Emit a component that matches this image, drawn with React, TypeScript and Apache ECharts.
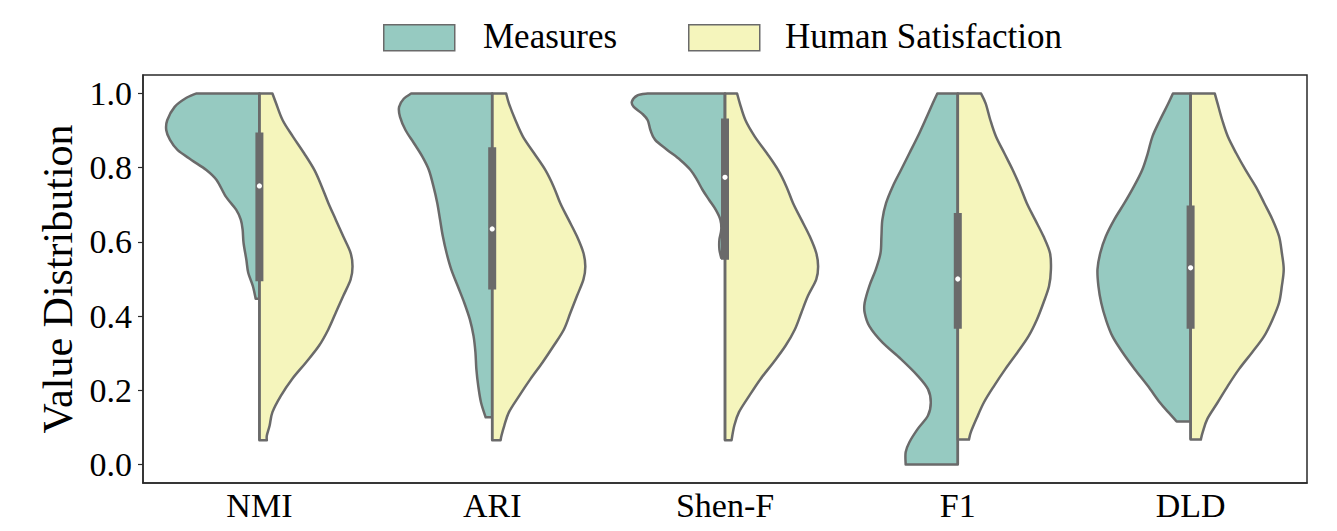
import React, { useEffect, useRef } from "react";
import * as echarts from "echarts";

const categories = ["NMI", "ARI", "Shen-F", "F1", "DLD"];
const seriesNames = ["Measures", "Human Satisfaction"];
const yTicks = [0, 0.2, 0.4, 0.6, 0.8, 1.0];

// Kernel density profiles: [value, relative density]
const nmiMeasures = [[1.0, 0.68], [0.986, 0.8], [0.964, 0.91], [0.928, 0.99], [0.901, 1.0], [0.875, 0.96], [0.848, 0.88], [0.821, 0.73], [0.794, 0.57], [0.767, 0.46], [0.722, 0.36], [0.687, 0.25], [0.66, 0.2], [0.633, 0.18], [0.597, 0.17], [0.552, 0.14], [0.517, 0.12], [0.481, 0.07], [0.447, 0.04]];
const ariMeasures = [[1.0, 0.87], [0.986, 0.95], [0.964, 1.0], [0.937, 0.99], [0.901, 0.93], [0.866, 0.84], [0.83, 0.75], [0.794, 0.68], [0.749, 0.63], [0.705, 0.59], [0.66, 0.56], [0.615, 0.53], [0.57, 0.49], [0.526, 0.44], [0.481, 0.37], [0.436, 0.3], [0.391, 0.24], [0.346, 0.2], [0.302, 0.18], [0.257, 0.17], [0.212, 0.15], [0.167, 0.12], [0.127, 0.07]];
const shenMeasures = [[1.0, 0.83], [0.995, 0.94], [0.978, 1.0], [0.964, 0.98], [0.946, 0.89], [0.928, 0.83], [0.901, 0.8], [0.875, 0.75], [0.848, 0.62], [0.821, 0.48], [0.794, 0.37], [0.767, 0.3], [0.74, 0.24], [0.713, 0.17], [0.687, 0.1], [0.66, 0.05], [0.633, 0.04], [0.606, 0.06], [0.579, 0.06], [0.557, 0.04]];
const f1Measures = [[1.0, 0.22], [0.973, 0.27], [0.928, 0.35], [0.884, 0.43], [0.839, 0.52], [0.794, 0.61], [0.749, 0.7], [0.705, 0.77], [0.66, 0.81], [0.615, 0.82], [0.57, 0.83], [0.526, 0.88], [0.481, 0.95], [0.436, 1.0], [0.409, 1.0], [0.373, 0.95], [0.329, 0.81], [0.284, 0.61], [0.239, 0.43], [0.203, 0.32], [0.167, 0.29], [0.132, 0.32], [0.096, 0.43], [0.06, 0.52], [0.033, 0.56], [0.0, 0.56]];
const dldMeasures = [[1.0, 0.19], [0.973, 0.24], [0.928, 0.33], [0.884, 0.41], [0.839, 0.46], [0.794, 0.52], [0.749, 0.61], [0.705, 0.71], [0.66, 0.82], [0.615, 0.91], [0.57, 0.97], [0.526, 1.0], [0.481, 0.99], [0.436, 0.96], [0.391, 0.91], [0.346, 0.84], [0.302, 0.73], [0.257, 0.6], [0.212, 0.46], [0.167, 0.33], [0.141, 0.24], [0.116, 0.15]];

const nmiHuman = [[1.0, 0.14], [0.973, 0.18], [0.928, 0.25], [0.884, 0.36], [0.839, 0.48], [0.794, 0.59], [0.749, 0.67], [0.705, 0.74], [0.66, 0.82], [0.615, 0.9], [0.57, 0.98], [0.534, 1.0], [0.499, 0.98], [0.454, 0.9], [0.409, 0.82], [0.364, 0.74], [0.32, 0.64], [0.275, 0.5], [0.23, 0.35], [0.185, 0.23], [0.141, 0.14], [0.105, 0.11], [0.078, 0.08], [0.065, 0.08]];
const ariHuman = [[1.0, 0.15], [0.973, 0.18], [0.928, 0.25], [0.884, 0.33], [0.839, 0.45], [0.794, 0.57], [0.749, 0.66], [0.705, 0.73], [0.66, 0.82], [0.615, 0.91], [0.57, 0.98], [0.534, 1.0], [0.499, 0.98], [0.454, 0.91], [0.409, 0.84], [0.364, 0.77], [0.32, 0.66], [0.275, 0.54], [0.23, 0.41], [0.185, 0.29], [0.141, 0.18], [0.105, 0.13], [0.078, 0.1], [0.065, 0.09]];
const shenHuman = [[1.0, 0.13], [0.973, 0.16], [0.928, 0.22], [0.884, 0.32], [0.839, 0.45], [0.794, 0.57], [0.749, 0.66], [0.705, 0.73], [0.66, 0.82], [0.615, 0.91], [0.57, 0.98], [0.534, 1.0], [0.499, 0.98], [0.454, 0.89], [0.409, 0.82], [0.364, 0.75], [0.32, 0.65], [0.275, 0.52], [0.23, 0.38], [0.185, 0.26], [0.141, 0.15], [0.105, 0.1], [0.065, 0.07]];
const f1Human = [[1.0, 0.25], [0.973, 0.3], [0.928, 0.35], [0.884, 0.41], [0.839, 0.5], [0.794, 0.59], [0.749, 0.67], [0.705, 0.74], [0.66, 0.83], [0.615, 0.92], [0.57, 0.99], [0.526, 1.0], [0.481, 0.98], [0.436, 0.92], [0.391, 0.85], [0.346, 0.76], [0.302, 0.64], [0.257, 0.51], [0.212, 0.39], [0.167, 0.28], [0.123, 0.2], [0.087, 0.14], [0.067, 0.12]];
const dldHuman = [[1.0, 0.26], [0.973, 0.29], [0.928, 0.34], [0.884, 0.4], [0.839, 0.49], [0.794, 0.59], [0.749, 0.7], [0.705, 0.79], [0.66, 0.88], [0.615, 0.95], [0.57, 0.98], [0.526, 1.0], [0.481, 0.98], [0.436, 0.95], [0.391, 0.88], [0.346, 0.79], [0.302, 0.66], [0.257, 0.52], [0.212, 0.4], [0.167, 0.29], [0.123, 0.18], [0.087, 0.13], [0.067, 0.11]];

const measuresProfiles = [nmiMeasures, ariMeasures, shenMeasures, f1Measures, dldMeasures];
const humanProfiles = [nmiHuman, ariHuman, shenHuman, f1Human, dldHuman];

// inner box statistics
const boxQ1 = [0.494, 0.472, 0.552, 0.366, 0.366];
const boxQ3 = [0.895, 0.855, 0.933, 0.678, 0.698];
const medians = [0.751, 0.635, 0.774, 0.5, 0.53];
const whiskerLow = [0.065, 0.065, 0.065, 0.0, 0.067];
const whiskerHigh = [1.0, 1.0, 1.0, 1.0, 1.0];

const TEAL = "#96cac1";
const YELLOW = "#f5f5bc";
const GREY = "#6a6a6a";
const FONT = "'Liberation Serif', 'Times New Roman', serif";

function smoothPath(pts: number[][]) {
  let d = "";
  for (let i = 0; i < pts.length - 1; i++) {
    const p0 = pts[i - 1] || pts[i];
    const p1 = pts[i];
    const p2 = pts[i + 1];
    const p3 = pts[i + 2] || pts[i + 1];
    const c1x = p1[0] + (p2[0] - p0[0]) / 6;
    const c1y = p1[1] + (p2[1] - p0[1]) / 6;
    const c2x = p2[0] - (p3[0] - p1[0]) / 6;
    const c2y = p2[1] - (p3[1] - p1[1]) / 6;
    d += ` C${c1x},${c1y} ${c2x},${c2y} ${p2[0]},${p2[1]}`;
  }
  return d;
}

function violinRenderer(profiles: number[][][], side: number, fill: string) {
  return (params: any, api: any) => {
    const i = params.dataIndex;
    const prof = profiles[i];
    const cx = api.coord([i, 0])[0];
    const band = api.size([1, 0])[0];
    const half = band * 0.4;
    const maxD = Math.max(...prof.map((p) => p[1]));
    const pts = prof.map(([v, dd]) => [cx + (side * dd * half) / maxD, api.coord([i, v])[1]]);
    const yTop = pts[0][1];
    const yBot = pts[pts.length - 1][1];
    let d = `M${cx},${yTop} L${pts[0][0]},${pts[0][1]}`;
    d += smoothPath(pts);
    d += ` L${cx},${yBot} Z`;
    return {
      type: "path",
      shape: { pathData: d },
      style: { fill, stroke: GREY, lineWidth: 2.5, lineJoin: "round" },
    };
  };
}

function boxRenderer(params: any, api: any) {
  const i = params.dataIndex;
  const cx = api.coord([i, 0])[0];
  const yq1 = api.coord([i, boxQ1[i]])[1];
  const yq3 = api.coord([i, boxQ3[i]])[1];
  const ym = api.coord([i, medians[i]])[1];
  const ylo = api.coord([i, whiskerLow[i]])[1];
  const yhi = api.coord([i, whiskerHigh[i]])[1];
  const bw = 8;
  return {
    type: "group",
    children: [
      { type: "line", shape: { x1: cx, y1: yhi, x2: cx, y2: ylo }, style: { stroke: GREY, lineWidth: 2.5 } },
      { type: "rect", shape: { x: cx - bw / 2, y: yq3, width: bw, height: yq1 - yq3 }, style: { fill: GREY } },
      { type: "circle", shape: { cx, cy: ym, r: 2.6 }, style: { fill: "#ffffff" } },
    ],
  };
}

export default function App() {
  const ref = useRef<HTMLDivElement>(null);
  useEffect(() => {
    if (!ref.current) return;
    const chart = echarts.init(ref.current, null, { renderer: "svg" });
    const catData = categories.map((_, i) => [i, 0.5]);
    chart.setOption({
      animation: false,
      backgroundColor: "#ffffff",
      grid: { left: 143, right: 30, top: 75, bottom: 48, show: true, borderColor: "#2a2a2a", borderWidth: 1.5, backgroundColor: "transparent" },
      xAxis: {
        type: "category",
        data: categories,
        boundaryGap: true,
        axisLine: { onZero: false, lineStyle: { color: "#2a2a2a", width: 1.5 } },
        axisTick: { alignWithLabel: true, length: 5, lineStyle: { color: "#2a2a2a", width: 1.2 } },
        axisLabel: { fontFamily: FONT, fontSize: 34, color: "#000", margin: 5 },
        splitLine: { show: false },
      },
      yAxis: {
        type: "value",
        min: -0.05,
        max: 1.05,
        name: "Value Distribution",
        nameLocation: "middle",
        nameGap: 62,
        nameTextStyle: { fontFamily: FONT, fontSize: 42, color: "#000" },
        axisLine: { show: true, lineStyle: { color: "#2a2a2a", width: 1.5 } },
        axisTick: { show: true, length: 5, customValues: yTicks, lineStyle: { color: "#2a2a2a", width: 1.2 } },
        axisLabel: {
          fontFamily: FONT,
          fontSize: 34,
          color: "#000",
          margin: 11,
          customValues: yTicks,
          formatter: (v: number) => v.toFixed(1),
        },
        splitLine: { show: false },
      },
      graphic: [
        { type: "rect", left: 383, top: 24, shape: { width: 71, height: 26 }, style: { fill: TEAL, stroke: GREY, lineWidth: 1.5 } },
        { type: "text", left: 483, top: 19, style: { text: seriesNames[0], font: `35px ${FONT}`, fill: "#000" } },
        { type: "rect", left: 688, top: 24, shape: { width: 71, height: 26 }, style: { fill: YELLOW, stroke: GREY, lineWidth: 1.5 } },
        { type: "text", left: 785, top: 19, style: { text: seriesNames[1], font: `35px ${FONT}`, fill: "#000" } },
      ],
      series: [
        { name: seriesNames[0], type: "custom", data: catData, encode: { x: 0, y: 1 }, renderItem: violinRenderer(measuresProfiles, -1, TEAL), z: 2 },
        { name: seriesNames[1], type: "custom", data: catData, encode: { x: 0, y: 1 }, renderItem: violinRenderer(humanProfiles, 1, YELLOW), z: 2 },
        { name: "box", type: "custom", data: catData, encode: { x: 0, y: 1 }, renderItem: boxRenderer, z: 3 },
      ],
    });
    return () => chart.dispose();
  }, []);
  return <div ref={ref} style={{ position: "absolute", left: 0, top: 0, width: 1337, height: 531 }} />;
}
